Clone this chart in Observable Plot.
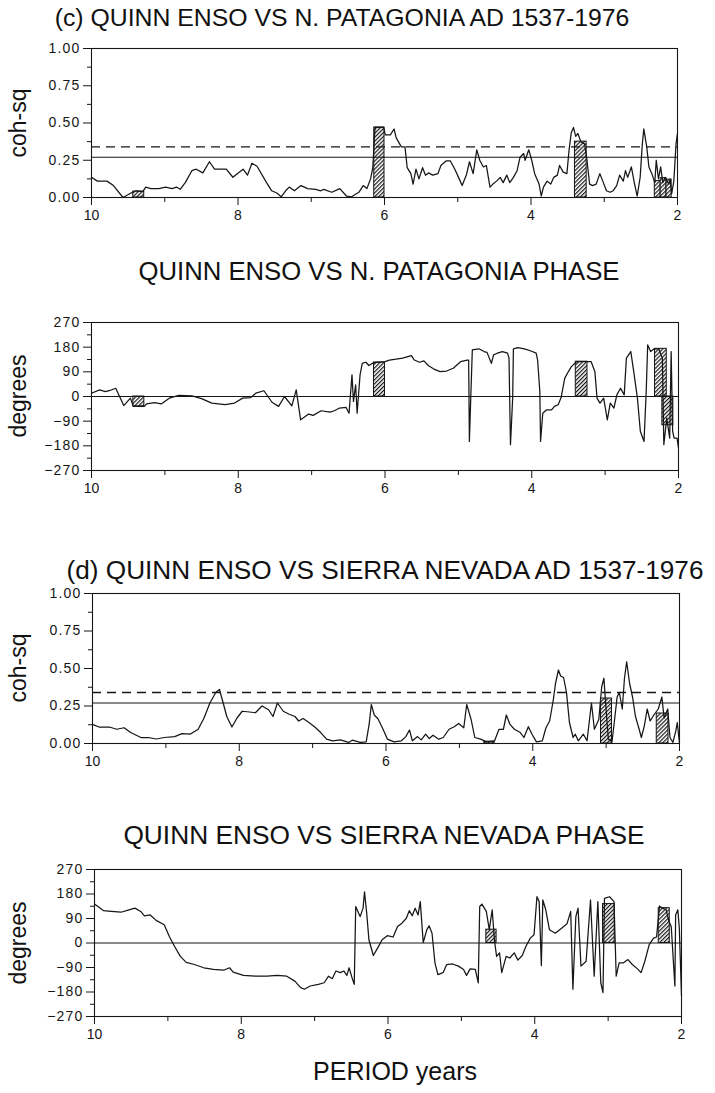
<!DOCTYPE html>
<html><head><meta charset="utf-8">
<script src="https://cdn.jsdelivr.net/npm/d3@7"></script>
<script src="https://cdn.jsdelivr.net/npm/@observablehq/plot@0.6"></script>
<style>
body{margin:0;background:#fff;}
#page{position:relative;width:715px;height:1093px;overflow:hidden;font-family:"Liberation Sans",Arial,sans-serif;color:#111;background:#fff;}
.title{position:absolute;white-space:nowrap;transform:translateX(-50%);line-height:1;}
.ylab{position:absolute;font-size:23px;white-space:nowrap;transform:translate(-50%,-50%) rotate(-90deg);line-height:1;}
.panel{position:absolute;left:0;}
.panel g[aria-label="y-axis tick label"] text{letter-spacing:1.2px;}
</style></head><body><div id="page"></div>
<script>
// ---- text ----
const titles = [
  "(c) QUINN ENSO VS N. PATAGONIA AD 1537-1976",
  "QUINN ENSO VS N. PATAGONIA PHASE",
  "(d) QUINN ENSO VS SIERRA NEVADA AD 1537-1976",
  "QUINN ENSO VS SIERRA NEVADA PHASE"
];
const xAxisTitle = "PERIOD years";
const yLabels = ["coh-sq", "degrees", "coh-sq", "degrees"];

// ---- ticks ----
const periodTicks = [10, 8, 6, 4, 2];
const periodMinor = [9, 7, 5, 3];
const cohTicks = [0, 0.25, 0.5, 0.75, 1];
const cohMinor = [0.125, 0.375, 0.625, 0.875];
const phaseTicks = [-270, -180, -90, 0, 90, 180, 270];
const phaseMinor = [-225, -135, -45, 45, 135, 225];

// ---- significance levels ----
const cohSolid = 0.27;
const cohDashed = 0.34;

// ---- series: [period, value] ----
const cohC = [[10,0.136],[9.92,0.11],[9.79,0.11],[9.70,0.08],[9.57,0.0],[9.46,0.03],[9.39,0.045],[9.30,0.04],[9.26,0.07],[9.19,0.06],[9.08,0.06],[8.99,0.07],[8.90,0.06],[8.84,0.07],[8.79,0.055],[8.72,0.10],[8.63,0.18],[8.57,0.19],[8.48,0.165],[8.39,0.24],[8.32,0.19],[8.16,0.19],[8.07,0.136],[8.01,0.16],[7.93,0.19],[7.87,0.15],[7.81,0.23],[7.74,0.21],[7.61,0.10],[7.54,0.045],[7.47,0.03],[7.41,0.005],[7.35,0.045],[7.30,0.07],[7.23,0.045],[7.14,0.08],[7.05,0.06],[6.94,0.055],[6.87,0.045],[6.83,0.055],[6.72,0.035],[6.61,0.06],[6.52,0.01],[6.45,0.005],[6.35,0.035],[6.29,0.08],[6.24,0.06],[6.19,0.125],[6.16,0.2],[6.13,0.47],[6.01,0.47],[5.99,0.42],[5.92,0.42],[5.87,0.46],[5.84,0.40],[5.77,0.34],[5.72,0.34],[5.69,0.20],[5.64,0.16],[5.61,0.09],[5.57,0.19],[5.53,0.125],[5.48,0.20],[5.44,0.15],[5.40,0.165],[5.34,0.15],[5.27,0.16],[5.23,0.215],[5.16,0.245],[5.10,0.245],[5.04,0.19],[4.98,0.125],[4.94,0.08],[4.88,0.155],[4.84,0.24],[4.79,0.16],[4.74,0.32],[4.70,0.25],[4.65,0.205],[4.61,0.215],[4.56,0.07],[4.52,0.09],[4.47,0.11],[4.42,0.135],[4.38,0.10],[4.33,0.15],[4.29,0.10],[4.24,0.135],[4.19,0.18],[4.15,0.27],[4.10,0.295],[4.08,0.25],[4.03,0.32],[3.99,0.25],[3.95,0.16],[3.89,0.09],[3.86,0.01],[3.83,0.07],[3.78,0.11],[3.73,0.09],[3.69,0.135],[3.64,0.15],[3.61,0.215],[3.56,0.17],[3.51,0.16],[3.48,0.32],[3.45,0.435],[3.42,0.47],[3.39,0.41],[3.36,0.43],[3.32,0.375],[3.27,0.36],[3.24,0.27],[3.20,0.09],[3.16,0.08],[3.11,0.09],[3.06,0.16],[3.02,0.11],[2.97,0.045],[2.92,0.035],[2.88,0.045],[2.83,0.08],[2.79,0.15],[2.74,0.11],[2.71,0.18],[2.68,0.135],[2.63,0.205],[2.59,0.10],[2.55,0.01],[2.51,0.135],[2.48,0.36],[2.46,0.46],[2.42,0.34],[2.39,0.205],[2.35,0.16],[2.31,0.10],[2.29,0.25],[2.26,0.125],[2.23,0.205],[2.20,0.10],[2.17,0.135],[2.12,0.09],[2.10,0.125],[2.08,0.025],[2.05,0.11],[2.02,0.36],[2.0,0.43]];

const phaseC = [[10,12],[9.89,24],[9.81,18],[9.75,22],[9.67,30],[9.56,-33],[9.47,-6],[9.43,-36],[9.28,-36],[9.25,-27],[9.14,-22],[9.05,-27],[8.94,-6],[8.81,4],[8.63,2],[8.50,-8],[8.36,-24],[8.18,-30],[8.05,-24],[7.94,-6],[7.83,-4],[7.76,12],[7.65,21],[7.54,-21],[7.45,-36],[7.37,0],[7.27,-34],[7.21,24],[7.15,-85],[7.04,-64],[6.98,-69],[6.87,-52],[6.75,-57],[6.69,-52],[6.62,-42],[6.53,-40],[6.49,-61],[6.45,79],[6.43,-18],[6.40,42],[6.38,-61],[6.34,79],[6.31,121],[6.26,125],[6.22,113],[6.17,121],[6.15,124],[6.0,127],[5.94,133],[5.85,136],[5.76,140],[5.64,149],[5.60,133],[5.53,125],[5.47,130],[5.41,113],[5.34,101],[5.25,91],[5.16,93],[5.07,103],[4.97,127],[4.88,133],[4.86,133],[4.85,-164],[4.83,6],[4.81,170],[4.72,174],[4.65,164],[4.61,161],[4.55,121],[4.52,152],[4.47,158],[4.40,164],[4.33,158],[4.31,140],[4.29,-176],[4.26,-6],[4.25,174],[4.19,178],[4.10,174],[4.01,166],[3.94,158],[3.92,133],[3.89,18],[3.88,-164],[3.85,-61],[3.80,-49],[3.73,-49],[3.69,-36],[3.64,-30],[3.60,-4],[3.55,67],[3.50,91],[3.46,109],[3.39,127],[3.24,127],[3.19,127],[3.14,91],[3.11,-6],[3.07,-24],[3.02,-6],[2.97,-85],[2.93,-24],[2.88,-42],[2.84,6],[2.79,30],[2.74,6],[2.71,140],[2.65,164],[2.61,91],[2.56,-6],[2.52,-127],[2.47,-164],[2.44,18],[2.42,188],[2.38,164],[2.33,174],[2.27,174],[2.22,140],[2.20,-176],[2.16,-79],[2.12,-152],[2.10,164],[2.08,-127],[2.06,-152],[2.02,-152],[2.0,-188]];

const cohD = [[10,0.127],[9.91,0.11],[9.77,0.11],[9.67,0.095],[9.57,0.105],[9.48,0.073],[9.34,0.04],[9.24,0.04],[9.13,0.03],[9.02,0.04],[8.88,0.046],[8.78,0.066],[8.67,0.062],[8.56,0.095],[8.48,0.17],[8.40,0.27],[8.32,0.34],[8.27,0.36],[8.23,0.29],[8.17,0.18],[8.10,0.11],[8.03,0.17],[7.96,0.215],[7.86,0.21],[7.78,0.205],[7.69,0.25],[7.60,0.225],[7.54,0.18],[7.48,0.27],[7.40,0.215],[7.32,0.195],[7.24,0.18],[7.19,0.15],[7.13,0.167],[7.05,0.14],[6.97,0.11],[6.89,0.073],[6.81,0.029],[6.73,0.018],[6.62,0.024],[6.51,0.007],[6.46,0.022],[6.35,0.007],[6.27,0.011],[6.23,0.127],[6.20,0.26],[6.16,0.19],[6.11,0.165],[6.04,0.095],[5.98,0.029],[5.89,0.011],[5.79,0.018],[5.73,0.046],[5.68,0.09],[5.64,0.018],[5.57,0.046],[5.52,0.024],[5.46,0.062],[5.41,0.033],[5.36,0.055],[5.28,0.029],[5.22,0.04],[5.14,0.095],[5.07,0.112],[5.01,0.134],[4.94,0.105],[4.90,0.26],[4.84,0.16],[4.79,0.04],[4.71,0.029],[4.63,0.011],[4.52,0.018],[4.46,0.095],[4.40,0.095],[4.36,0.19],[4.31,0.127],[4.25,0.095],[4.17,0.073],[4.12,0.04],[4.06,0.112],[4.01,0.062],[3.95,0.011],[3.87,0.018],[3.82,0.105],[3.77,0.15],[3.72,0.29],[3.69,0.40],[3.65,0.49],[3.62,0.45],[3.58,0.44],[3.54,0.34],[3.50,0.14],[3.45,0.04],[3.42,0.062],[3.38,0.018],[3.31,0.062],[3.26,0.018],[3.20,0.27],[3.16,0.095],[3.10,0.16],[3.06,0.38],[3.03,0.435],[3.01,0.29],[2.97,0.03],[2.92,0.01],[2.88,0.18],[2.85,0.31],[2.82,0.34],[2.78,0.23],[2.75,0.435],[2.72,0.545],[2.68,0.40],[2.64,0.31],[2.60,0.18],[2.55,0.095],[2.52,0.04],[2.48,0.116],[2.44,0.23],[2.40,0.15],[2.35,0.19],[2.29,0.23],[2.24,0.31],[2.21,0.17],[2.16,0.23],[2.13,0.04],[2.09,0.007],[2.05,0.084],[2.03,0.14],[2.0,0.0]];

const phaseD = [[10,143],[9.88,119],[9.77,116],[9.64,113],[9.53,122],[9.45,128],[9.37,116],[9.32,100],[9.24,103],[9.16,83],[9.05,67],[8.98,24],[8.91,-12],[8.83,-49],[8.75,-71],[8.64,-79],[8.51,-91],[8.38,-97],[8.24,-100],[8.16,-91],[8.11,-107],[7.97,-119],[7.81,-122],[7.65,-122],[7.51,-119],[7.38,-122],[7.27,-140],[7.19,-164],[7.14,-170],[7.06,-158],[6.95,-152],[6.87,-146],[6.81,-122],[6.76,-131],[6.71,-103],[6.65,-109],[6.60,-103],[6.56,-119],[6.53,-91],[6.49,-128],[6.46,-152],[6.44,134],[6.38,97],[6.34,128],[6.32,188],[6.29,109],[6.26,12],[6.20,-46],[6.14,-18],[6.08,12],[6.01,27],[5.93,22],[5.87,61],[5.81,73],[5.75,91],[5.71,119],[5.67,100],[5.63,128],[5.59,103],[5.56,152],[5.52,2],[5.47,49],[5.44,63],[5.40,36],[5.36,-73],[5.32,-116],[5.25,-109],[5.20,-79],[5.12,-77],[5.04,-85],[4.97,-97],[4.93,-119],[4.88,-95],[4.81,-97],[4.77,-146],[4.75,134],[4.72,143],[4.66,116],[4.62,49],[4.58,122],[4.55,12],[4.52,-49],[4.48,-36],[4.45,-109],[4.39,-49],[4.34,-55],[4.28,-36],[4.23,-63],[4.17,-46],[4.12,-12],[4.06,18],[4.01,30],[3.97,170],[3.94,152],[3.91,-83],[3.89,158],[3.85,122],[3.80,49],[3.72,36],[3.63,55],[3.56,71],[3.51,116],[3.48,-170],[3.44,97],[3.41,128],[3.37,-85],[3.30,-67],[3.24,158],[3.19,-122],[3.14,152],[3.10,-146],[3.07,-182],[3.05,164],[2.98,170],[2.92,152],[2.89,-122],[2.85,-73],[2.79,-73],[2.73,-61],[2.67,-79],[2.60,-95],[2.55,-109],[2.50,-67],[2.44,-6],[2.38,18],[2.34,22],[2.30,136],[2.26,128],[2.21,122],[2.17,79],[2.14,61],[2.09,-158],[2.08,103],[2.05,122],[2.03,55],[2.0,-195]];

// ---- hatched significance bars: [start period, end period, height] ----
const barsCohC = [[9.43,9.28,0.04],[6.14,6.0,0.47],[3.40,3.24,0.375],[2.31,2.23,0.11],[2.23,2.15,0.13],[2.15,2.08,0.12]];
const barsPhaseC = [[9.43,9.28,-36],[6.15,6.0,124],[3.40,3.24,127],[2.32,2.16,174],[2.22,2.07,-105]];
const barsCohD = [[4.66,4.52,0.012],[3.07,2.92,0.30],[2.31,2.15,0.20]];
const barsPhaseD = [[4.66,4.52,49],[3.07,2.91,143],[2.31,2.16,128]];

// ---- layout ----
const page = document.getElementById("page");
const ink = "#161616";
const panels = [
  {data: cohC, bars: barsCohC, kind: "coh", top: 48, bottom: 197, left: 91, right: 677},
  {data: phaseC, bars: barsPhaseC, kind: "phase", top: 322, bottom: 470, left: 91, right: 678},
  {data: cohD, bars: barsCohD, kind: "coh", top: 593, bottom: 743, left: 92, right: 679},
  {data: phaseD, bars: barsPhaseD, kind: "phase", top: 869, bottom: 1016, left: 94, right: 681}
];
const titleSpec = [
  {cx: 342, cy: 18, size: 24.8},
  {cx: 379, cy: 272, size: 25.7},
  {cx: 385, cy: 570, size: 26.2},
  {cx: 384, cy: 835, size: 26.3}
];

const fmtPhase = d => d < 0 ? "\u2212" + Math.abs(d) : String(d);
const fmtCoh = d3.format(".2f");

panels.forEach((cfg, i) => {
  const mt = 12, mb = 32;
  const H = mt + (cfg.bottom - cfg.top) + mb;
  const coh = cfg.kind === "coh";
  const refs = coh
    ? [Plot.ruleY([cohSolid], {stroke: ink, strokeWidth: 1.1}),
       Plot.ruleY([cohDashed], {stroke: ink, strokeWidth: 1.3, strokeDasharray: "9,6"})]
    : [Plot.ruleY([0], {stroke: ink, strokeWidth: 1.1})];
  const svg = Plot.plot({
    width: 715, height: H,
    marginLeft: cfg.left, marginRight: 715 - cfg.right,
    marginTop: mt, marginBottom: mb,
    style: {fontFamily: "'Liberation Sans', Arial, sans-serif", fontSize: "14px", color: ink, background: "transparent"},
    x: {domain: [10, 2]},
    y: {domain: coh ? [0, 1] : [-270, 270]},
    marks: [
      Plot.rect(cfg.bars, {x1: d => d[0], x2: d => d[1], y1: 0, y2: d => d[2], fill: `url(#hatch${i})`, stroke: ink, strokeWidth: 1}),
      ...refs,
      Plot.line(cfg.data, {x: d => d[0], y: d => d[1], stroke: ink, strokeWidth: 1.25, curve: "linear"}),
      Plot.frame({stroke: ink, strokeWidth: 1.1}),
      Plot.axisX({ticks: periodTicks, tickSize: 8, tickPadding: 5, tickFormat: d => String(d), fontSize: 14, label: null}),
      Plot.axisX({ticks: periodMinor, tickSize: 5, tickFormat: () => "", label: null}),
      Plot.axisY({ticks: coh ? cohTicks : phaseTicks, tickSize: 8, tickPadding: 3, tickFormat: coh ? fmtCoh : fmtPhase, fontSize: 14, label: null}),
      Plot.axisY({ticks: coh ? cohMinor : phaseMinor, tickSize: 4, tickFormat: () => "", label: null})
    ]
  });
  const ns = "http://www.w3.org/2000/svg";
  const defs = document.createElementNS(ns, "defs");
  defs.innerHTML = `<pattern id="hatch${i}" patternUnits="userSpaceOnUse" width="2.8" height="2.8" patternTransform="rotate(45)"><rect width="2.8" height="2.8" fill="#fff"/><line x1="0.6" y1="0" x2="0.6" y2="2.8" stroke="${ink}" stroke-width="1.2"/></pattern>`;
  svg.insertBefore(defs, svg.firstChild);
  svg.classList.add("panel");
  svg.style.top = (cfg.top - mt) + "px";
  page.appendChild(svg);

  const t = document.createElement("div");
  t.className = "title";
  t.textContent = titles[i];
  const ts = titleSpec[i];
  t.style.fontSize = ts.size + "px";
  t.style.left = ts.cx + "px";
  t.style.top = (ts.cy - 0.488 * ts.size) + "px";
  page.appendChild(t);

  const yl = document.createElement("div");
  yl.className = "ylab";
  yl.textContent = yLabels[i];
  yl.style.left = "18px";
  yl.style.top = ((cfg.top + cfg.bottom) / 2) + "px";
  page.appendChild(yl);
});

const xt = document.createElement("div");
xt.className = "title";
xt.textContent = xAxisTitle;
xt.style.fontSize = "25px";
xt.style.left = "395px";
xt.style.top = (1071 - 0.488 * 25) + "px";
page.appendChild(xt);
</script></body></html>
